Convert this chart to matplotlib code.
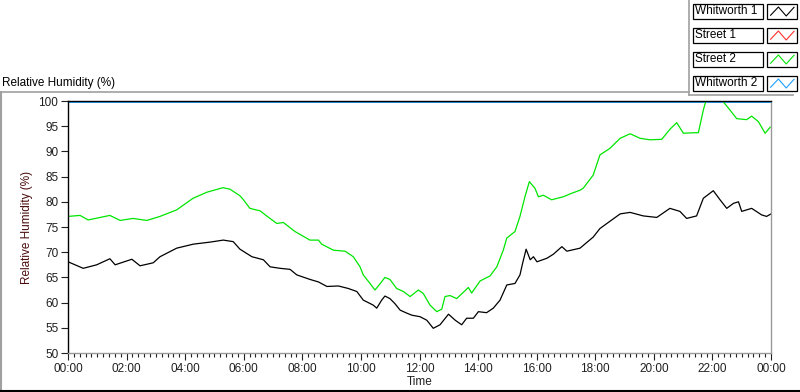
import matplotlib.pyplot as plt
from matplotlib.lines import Line2D
from matplotlib.patches import Rectangle
from matplotlib.ticker import MultipleLocator, FuncFormatter

plt.rcParams["font.family"] = ["Liberation Sans", "DejaVu Sans"]

# Street 2 (green): time in hours, RH in %
street2_time = [0.0, 0.41, 0.69, 1.43, 1.78, 2.22, 2.69, 3.14, 3.71, 4.27, 4.74, 5.29, 5.53,
                5.87, 5.99, 6.21, 6.56, 6.78, 7.13, 7.35, 7.75, 8.26, 8.55, 8.66, 9.06, 9.46,
                9.74, 9.97, 10.08, 10.31, 10.48, 10.65, 10.82, 10.99, 11.22, 11.45, 11.68,
                11.96, 12.13, 12.36, 12.59, 12.76, 12.87, 13.04, 13.27, 13.67, 13.78, 14.07,
                14.41, 14.64, 14.86, 14.98, 15.26, 15.43, 15.60, 15.75, 15.94, 16.06, 16.23,
                16.51, 16.91, 17.20, 17.48, 17.59, 17.93, 18.16, 18.50, 18.85, 19.19, 19.53,
                19.87, 20.27, 20.55, 20.78, 21.01, 21.35, 21.52, 21.69, 21.80, 22.05, 22.32,
                22.60, 22.83, 23.17, 23.34, 23.57, 23.80, 23.97]
street2_rh = [77.1, 77.3, 76.4, 77.3, 76.3, 76.7, 76.3, 77.1, 78.4, 80.7, 81.9, 82.8, 82.5,
              81.2, 80.4, 78.7, 78.2, 77.2, 75.7, 75.9, 74.1, 72.4, 72.4, 71.6, 70.4, 70.2,
              69.1, 67.1, 65.5, 63.8, 62.5, 63.7, 65.0, 64.6, 62.8, 62.2, 61.2,
              62.5, 61.8, 59.5, 58.2, 58.7, 61.2, 61.4, 60.8, 63.0, 61.9, 64.3,
              65.3, 67.1, 70.4, 72.8, 74.1, 77.1, 81.0, 84.0, 82.7, 81.0, 81.3,
              80.4, 81.0, 81.7, 82.3, 82.7, 85.3, 89.3, 90.6, 92.6, 93.5, 92.6,
              92.3, 92.4, 94.4, 95.7, 93.6, 93.7, 93.7, 98.2, 100.5, 100.8, 100.2,
              98.2, 96.5, 96.3, 97.0, 95.9, 93.6, 94.8]

# Whitworth 1 (black)
whitworth1_time = [0.0, 0.52, 0.98, 1.43, 1.61, 2.18, 2.46, 2.91, 3.14, 3.71, 4.28, 4.85,
                   5.30, 5.64, 5.87, 6.28, 6.67, 6.90, 7.24, 7.58, 7.81, 8.26, 8.55, 8.84,
                   9.23, 9.57, 9.86, 10.08, 10.42, 10.54, 10.71, 10.82, 10.99, 11.16, 11.34,
                   11.57, 11.74, 12.02, 12.25, 12.47, 12.70, 12.99, 13.22, 13.44, 13.61,
                   13.84, 14.01, 14.29, 14.52, 14.75, 14.98, 15.26, 15.43, 15.52, 15.64,
                   15.78, 15.89, 16.01, 16.35, 16.57, 16.86, 17.03, 17.48, 17.93, 18.16,
                   18.85, 19.19, 19.64, 20.10, 20.55, 20.89, 21.12, 21.46, 21.69, 22.03,
                   22.26, 22.49, 22.72, 22.89, 23.00, 23.34, 23.68, 23.85, 24.0]
whitworth1_rh = [68.1, 66.8, 67.5, 68.7, 67.5, 68.6, 67.3, 67.9, 69.1, 70.8, 71.6, 72.0,
                 72.4, 72.1, 70.6, 69.1, 68.5, 67.1, 66.8, 66.6, 65.5, 64.6, 64.1, 63.2,
                 63.3, 62.8, 62.2, 60.5, 59.5, 58.9, 60.5, 61.3, 60.8, 59.8, 58.5,
                 57.9, 57.5, 57.2, 56.5, 54.9, 55.6, 57.7, 56.5, 55.6, 56.9,
                 56.9, 58.2, 58.0, 58.9, 60.5, 63.5, 63.8, 65.5, 67.8, 70.6,
                 68.5, 69.1, 68.1, 68.8, 69.6, 71.1, 70.2, 70.8, 73.0, 74.7,
                 77.6, 77.9, 77.2, 76.9, 78.7, 78.1, 76.7, 77.2, 80.7, 82.2,
                 80.4, 78.7, 79.7, 80.0, 78.1, 78.7, 77.4, 77.1, 77.6]

# Whitworth 2 (sits on the top edge) and Street 1 (nothing visible)
whitworth2_time = [0.0, 24.0]
whitworth2_rh = [100.0, 100.0]
street1_time = []
street1_rh = []

series_names = ["Whitworth 1", "Street 1", "Street 2", "Whitworth 2"]
series_colors = ["#000000", "#ff3030", "#00e600", "#1ea0ff"]

W, H = 800, 392
fig = plt.figure(figsize=(W / 100, H / 100), dpi=100)


def fx(px):
    return px / W


def fy(py):
    return 1 - py / H


ax = fig.add_axes([fx(68), fy(353), fx(771) - fx(68), fy(101) - fy(353)])

ax.plot(whitworth2_time, whitworth2_rh, color=series_colors[3], lw=2.8, zorder=1)
ax.plot(street1_time, street1_rh, color=series_colors[1], lw=0.9)
ax.plot(whitworth1_time, whitworth1_rh, color=series_colors[0], lw=0.9, zorder=2)
ax.plot(street2_time, street2_rh, color=series_colors[2], lw=0.9, zorder=2)

ax.set_xlim(0, 24)
ax.set_ylim(50, 100)
ax.xaxis.set_major_locator(MultipleLocator(2))
ax.xaxis.set_minor_locator(MultipleLocator(0.2))
ax.yaxis.set_major_locator(MultipleLocator(5))
ax.xaxis.set_major_formatter(FuncFormatter(lambda v, p: "%02d:00" % (int(round(v)) % 24)))
ax.tick_params(axis="both", which="major", length=5, width=0.8, labelsize=8.5,
               colors="#202020", direction="out", pad=2)
ax.tick_params(axis="x", which="minor", length=3, width=0.8, color="#202020")
ax.tick_params(axis="y", which="minor", length=0)

for side, c in [("left", "#000000"), ("top", "#000000"), ("right", "#999999"),
                ("bottom", "#999999")]:
    ax.spines[side].set_color(c)
    ax.spines[side].set_linewidth(1.0)

ax.set_xlabel("Time", fontsize=8.5, labelpad=1, color="#202020")
ax.set_ylabel("Relative Humidity (%)", fontsize=8.5, color="#4a0c0c", labelpad=4)

# panel title and frame lines
fig.text(fx(2), fy(83), "Relative Humidity (%)", fontsize=8.5, va="center", ha="left")
fig.add_artist(Line2D([fx(0), fx(689)], [fy(92), fy(92)], color="#a0a0a0", lw=1.2))
fig.add_artist(Line2D([fx(689), fx(689)], [fy(0), fy(95)], color="#a0a0a0", lw=1.2))
fig.add_artist(Line2D([fx(689), fx(793)], [fy(95), fy(95)], color="#a0a0a0", lw=1.2))
fig.add_artist(Line2D([fx(1), fx(1)], [fy(92), fy(391)], color="#a0a0a0", lw=1.5))
fig.add_artist(Line2D([fx(0), fx(800)], [fy(391), fy(391)], color="#000000", lw=1.5))

# LabVIEW style legend: name box + icon box per row
zig_x = [0.12, 0.38, 0.64, 0.9]
zig_y = [0.25, 0.8, 0.2, 0.78]
for i, (name, col) in enumerate(zip(series_names, series_colors)):
    top = 4 + 24 * i
    bot = top + 15
    fig.add_artist(Rectangle((fx(693), fy(bot)), fx(763) - fx(693), fy(top) - fy(bot),
                             transform=fig.transFigure, facecolor="white",
                             edgecolor="#000000", lw=0.9))
    fig.add_artist(Rectangle((fx(767), fy(bot)), fx(797) - fx(767), fy(top) - fy(bot),
                             transform=fig.transFigure, facecolor="white",
                             edgecolor="#000000", lw=0.9))
    fig.text(fx(695), fy((top + bot) / 2), name, fontsize=8.5, va="center", ha="left")
    xs = [fx(767) + z * (fx(797) - fx(767)) for z in zig_x]
    ys = [fy(bot) + z * (fy(top) - fy(bot)) for z in zig_y]
    fig.add_artist(Line2D(xs, ys, color=col, lw=0.8))

fig.savefig("out.png", dpi=100)
